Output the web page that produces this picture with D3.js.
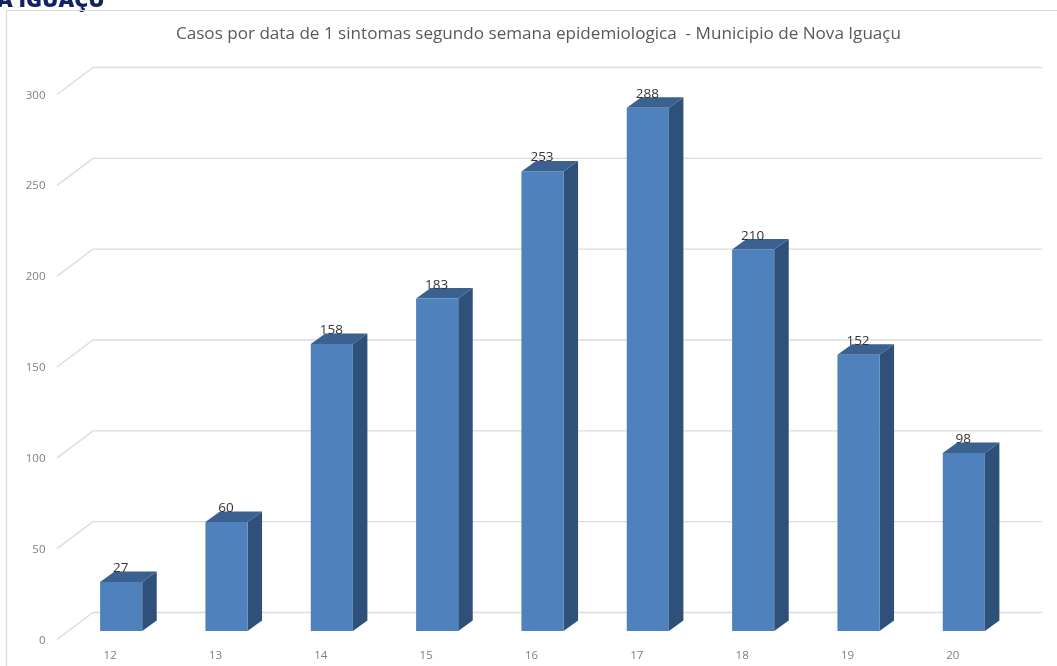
<!DOCTYPE html>
<html><head><meta charset="utf-8">
<script src="https://cdnjs.cloudflare.com/ajax/libs/d3/7.8.5/d3.min.js"></script>
<style>html,body{margin:0;padding:0;background:#fff}svg{display:block;filter:blur(0.45px)}text{font-family:"Open Sans","Noto Sans",sans-serif}</style>
</head><body><div id="c"></div>
<script>
const weeks = ["12","13","14","15","16","17","18","19","20"];
const cases = [27,60,158,183,253,288,210,152,98];
const yTicks = [0,50,100,150,200,250,300];
const chartTitle = "Casos por data de 1 sintomas segundo semana epidemiologica  - Municipio de Nova Iguaçu";
const logoText = "A IGUAÇU";

const svg = d3.select("#c").append("svg").attr("width",1057).attr("height",666);
svg.append("text").text(logoText).attr("x",-3).attr("y",7).attr("font-size",21.7)
  .attr("font-weight",800).attr("fill","#14235f");
svg.append("path").attr("d","M6.5,666V10.5H1057").attr("fill","none").attr("stroke","#d9d9d9").attr("stroke-width",1.2);

const y = d3.scaleLinear().domain([0,300]).range([639.5,94.5]);
const x = d3.scaleBand().domain(weeks).range([68.5,1016.5]).paddingInner(0.6).paddingOuter(0.3);
const floorDx=36, floorDy=-27, barDx=14.5, barDy=-10.5, barInset=-8.5;

svg.append("g").selectAll("path").data(yTicks).join("path")
  .attr("fill","none").attr("stroke","#dcdcdc").attr("stroke-width",1.4)
  .attr("d",d=>`M57,${y(d)}L${57+floorDx},${y(d)+floorDy}H1042`);

svg.append("g").selectAll("text").data(yTicks).join("text").text(d=>d)
  .attr("x",45.5).attr("y",d=>y(d)+4).attr("text-anchor","end")
  .attr("font-size",11.5).attr("fill","#7f7f7f");

const bars = svg.append("g").selectAll("g").data(weeks.map((w,i)=>({w,v:cases[i]}))).join("g");
const L=d=>x(d.w), R=d=>x(d.w)+x.bandwidth(), T=d=>y(d.v)+barInset, B=()=>y(0)+barInset;
bars.append("path").attr("fill","#2f5078")
  .attr("d",d=>`M${R(d)},${T(d)}l${barDx},${barDy}V${B()+barDy}L${R(d)},${B()}Z`);
bars.append("path").attr("fill","#3a618f")
  .attr("d",d=>`M${L(d)},${T(d)}l${barDx},${barDy}H${R(d)+barDx}L${R(d)},${T(d)}Z`);
bars.append("rect").attr("fill","#4f81bd")
  .attr("x",L).attr("y",T).attr("width",x.bandwidth()).attr("height",d=>B()-T(d));
bars.append("text").text(d=>d.v)
  .attr("x",d=>L(d)+x.bandwidth()/2-0.5).attr("y",d=>T(d)-10).attr("text-anchor","middle")
  .attr("font-size",13.5).attr("fill","#333");

svg.append("g").selectAll("text").data(weeks).join("text").text(d=>d)
  .attr("x",d=>x(d)+x.bandwidth()/2-11).attr("y",659).attr("text-anchor","middle")
  .attr("font-size",11.5).attr("fill","#7f7f7f");

svg.append("text").text(chartTitle).attr("xml:space","preserve").style("white-space","pre")
  .attr("x",538.5).attr("y",39).attr("text-anchor","middle")
  .attr("font-size",17.1).attr("fill","#595959");
</script></body></html>
